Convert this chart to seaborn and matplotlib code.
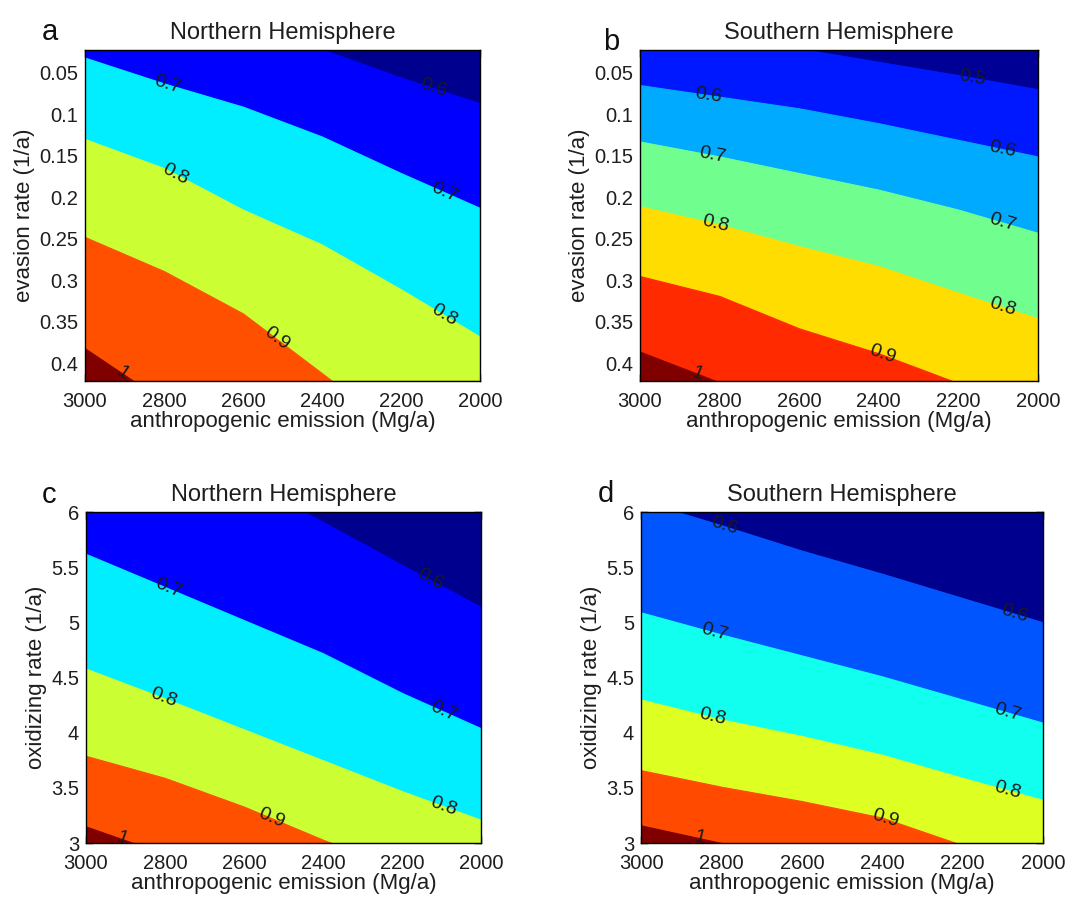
import numpy as np
import matplotlib
matplotlib.use("Agg")
import matplotlib.pyplot as plt
import seaborn as sns

# emission grid (Mg/a) where the contour positions were read
emission = [3000, 2800, 2600, 2400, 2200, 2000]

# a: NH, evasion rate at which each level is crossed
a_levels = [0.6, 0.7, 0.8, 0.9, 1.0]
a_06 = [-0.070, -0.037, -0.007, 0.022, 0.056, 0.087]
a_07 = [0.032, 0.063, 0.091, 0.127, 0.171, 0.213]
a_08 = [0.130, 0.165, 0.215, 0.257, 0.311, 0.368]
a_09 = [0.248, 0.289, 0.340, 0.412, 0.484, 0.550]
a_10 = [0.382, 0.446, 0.510, 0.570, 0.630, 0.690]

# b: SH, evasion rate
b_levels = [0.5, 0.6, 0.7, 0.8, 0.9, 1.0]
b_05 = [-0.011, 0.005, 0.021, 0.037, 0.053, 0.070]
b_06 = [0.065, 0.079, 0.093, 0.111, 0.131, 0.151]
b_07 = [0.133, 0.151, 0.171, 0.191, 0.215, 0.243]
b_08 = [0.211, 0.233, 0.259, 0.283, 0.315, 0.346]
b_09 = [0.295, 0.319, 0.358, 0.388, 0.424, 0.460]
b_10 = [0.386, 0.423, 0.460, 0.500, 0.540, 0.580]

# c: NH, oxidizing rate
c_levels = [0.6, 0.7, 0.8, 0.9, 1.0]
c_06 = [7.00, 6.65, 6.29, 5.91, 5.52, 5.14]
c_07 = [5.62, 5.32, 5.02, 4.72, 4.36, 4.04]
c_08 = [4.58, 4.31, 4.03, 3.75, 3.47, 3.21]
c_09 = [3.79, 3.59, 3.33, 3.03, 2.76, 2.52]
c_10 = [3.15, 2.90, 2.75, 2.60, 2.45, 2.30]

# d: SH, oxidizing rate
d_levels = [0.6, 0.7, 0.8, 0.9, 1.0]
d_06 = [6.10, 5.88, 5.65, 5.44, 5.22, 5.00]
d_07 = [5.09, 4.89, 4.70, 4.51, 4.30, 4.09]
d_08 = [4.30, 4.12, 3.97, 3.80, 3.59, 3.39]
d_09 = [3.66, 3.51, 3.38, 3.23, 2.98, 2.76]
d_10 = [3.16, 3.00, 2.84, 2.70, 2.55, 2.40]

# where the inline labels sit (emission value), per level
a_label_x = [[2118], [2790, 2090], [2770, 2090], [2515], [2905]]
b_label_x = [[2165], [2827, 2090], [2818, 2090], [2810, 2090], [2391], [2856]]
c_label_x = [[2129], [2791, 2095], [2804, 2095], [2530], [2909]]
d_label_x = [[2793, 2072], [2818, 2089], [2822, 2089], [2391], [2855]]

evasion_ticks = [0.05, 0.1, 0.15, 0.2, 0.25, 0.3, 0.35, 0.4]
oxid_ticks = [3, 3.5, 4, 4.5, 5, 5.5, 6]
emission_ticks = [3000, 2800, 2600, 2400, 2200, 2000]

sns.set_style("ticks")
plt.rcParams['font.family'] = ['Liberation Sans', 'DejaVu Sans']

fig = plt.figure(figsize=(10.88, 9), dpi=100)


def panel(rect, letter, letter_pos, title, ylabel, ylim, yticks, levels, bounds, colors, label_x):
    ax = fig.add_axes(rect)
    x = np.array(emission, float)
    ax.set_xlim(3000, 2000)
    ax.set_ylim(*ylim)
    edges = [np.full_like(x, ylim[1])] + [np.array(b, float) for b in bounds] + [np.full_like(x, ylim[0])]
    for i, col in enumerate(colors):
        ax.fill_between(x, edges[i], edges[i + 1], color=col, lw=0.8, edgecolor=col)

    # inline contour labels, rotated along the line
    for lev, b, xs in zip(levels, bounds, label_x):
        bb = np.array(b, float)[::-1]
        for xl in xs:
            yl = np.interp(xl, x[::-1], bb)
            p1 = ax.transData.transform((xl + 30, np.interp(xl + 30, x[::-1], bb)))
            p2 = ax.transData.transform((xl - 30, np.interp(xl - 30, x[::-1], bb)))
            ang = np.degrees(np.arctan2(p2[1] - p1[1], p2[0] - p1[0]))
            ax.text(xl, yl, f"{lev:g}", rotation=ang, rotation_mode='anchor',
                    ha='center', va='center', fontsize=14, color='#1a1a1a')

    ax.set_xticks(emission_ticks)
    ax.set_xticklabels([str(t) for t in emission_ticks])
    ax.set_yticks(yticks)
    ax.set_yticklabels([f"{t:g}" for t in yticks])
    ax.tick_params(direction='in', length=5, width=1, top=True, right=True,
                   labelsize=14.5, pad=5, color='black', labelcolor='#1e1e1e')
    ax.tick_params(axis='x', pad=8)
    for s in ax.spines.values():
        s.set_color('black')
        s.set_linewidth(1)
    ax.set_xlabel("anthropogenic emission (Mg/a)", fontsize=16, color='#1e1e1e', labelpad=0)
    ax.set_ylabel(ylabel, fontsize=16, color='#1e1e1e', labelpad=3)
    ax.set_title(title, fontsize=17, color='#1e1e1e', pad=8)
    fig.text(letter_pos[0], letter_pos[1], letter, fontsize=21, color='#111111', va='baseline')
    return ax


jet_a = ['#00008F', '#0000FF', '#00EEFF', '#CCFF33', '#FF5000', '#800000']
jet_b = ['#000095', '#0018FF', '#00AAFF', '#70FF8F', '#FFDD00', '#FF2A00', '#800000']
jet_d = ['#00008F', '#0055FF', '#10FFEE', '#DDFF22', '#FF4A00', '#800000']

panel([0.0781, 0.5767, 0.3631, 0.3678], 'a', (0.038, 0.956), "Northern Hemisphere",
      "evasion rate (1/a)", (0.4213, 0.0227), evasion_ticks, a_levels,
      [a_06, a_07, a_08, a_09, a_10], jet_a, a_label_x)
panel([0.5882, 0.5767, 0.3658, 0.3678], 'b', (0.554, 0.944), "Southern Hemisphere",
      "evasion rate (1/a)", (0.4213, 0.0227), evasion_ticks, b_levels,
      [b_05, b_06, b_07, b_08, b_09, b_10], jet_b, b_label_x)
panel([0.0790, 0.0633, 0.3631, 0.3678], 'c', (0.038, 0.441), "Northern Hemisphere",
      "oxidizing rate (1/a)", (3, 6), oxid_ticks, c_levels,
      [c_06, c_07, c_08, c_09, c_10], jet_a, c_label_x)
panel([0.5892, 0.0633, 0.3695, 0.3678], 'd', (0.549, 0.442), "Southern Hemisphere",
      "oxidizing rate (1/a)", (3, 6), oxid_ticks, d_levels,
      [d_06, d_07, d_08, d_09, d_10], jet_d, d_label_x)

fig.savefig("out.png", dpi=100)
